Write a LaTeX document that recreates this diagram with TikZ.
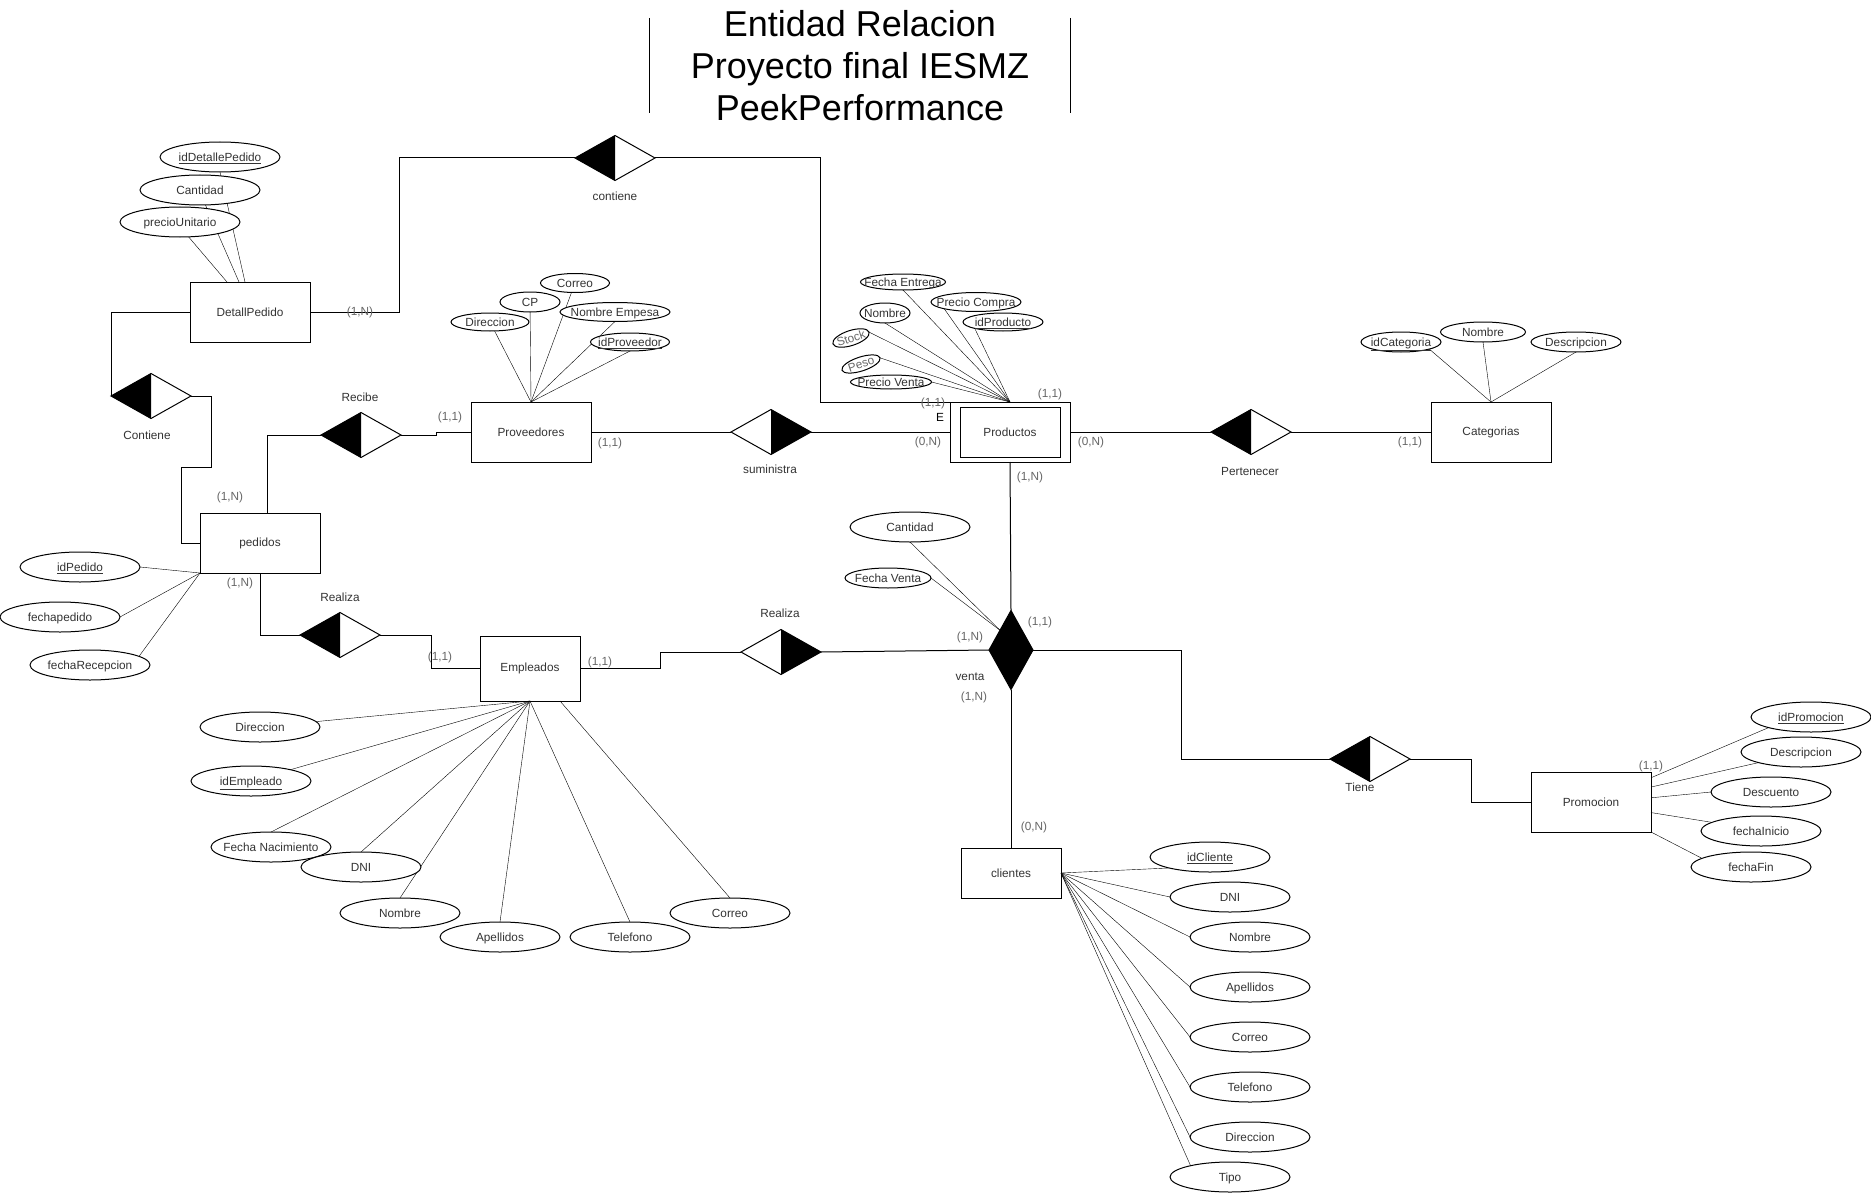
\documentclass[tikz,border=0pt]{standalone}
\usepackage{fontspec}
\setmainfont{Liberation Sans}
\usepackage{tikz}
\usetikzlibrary{positioning,shapes.geometric,calc,backgrounds}
\definecolor{cardgray}{HTML}{666666}
\definecolor{txtgray}{HTML}{333333}

\begin{document}
\begin{tikzpicture}[x=1pt,y=-1pt,line width=1pt,
  every node/.style={font=\fontsize{11.8}{14}\selectfont,text=txtgray},
  fixtext/.style={text height=8.5pt,text depth=0pt,
    execute at begin node={\hbox to 0pt\bgroup\hss},
    execute at end node={\hss\egroup}},
  entity/.style={draw,minimum width=120,minimum height=60,inner sep=0,outer sep=0},
  attr/.style={draw,ellipse,fill=white,minimum width=120,minimum height=30,inner sep=0,outer sep=0,fixtext},
  sattr/.style={draw,ellipse,fill=white,inner sep=0,outer sep=0,fixtext},
  rel/.style={draw,diamond,minimum width=80,minimum height=45,inner sep=0,outer sep=0},
  card/.style={text=cardgray}
]
  \useasboundingbox (0,0) rectangle (1871,1193);

  % title
  \node[font=\fontsize{36}{42}\selectfont,text=black,align=center,minimum width=420] (title) at (860,65.5)
    {Entidad Relacion\\Proyecto final IESMZ\\PeekPerformance};
  \draw ($(title.west)+(0,-47.5)$) -- ($(title.west)+(0,47.5)$);
  \draw ($(title.east)+(0,-47.5)$) -- ($(title.east)+(0,47.5)$);

  % entities
  \node[entity] (dp) at (250,312) {DetallPedido};
  \node[entity] (prov) at (531,432) {Proveedores};
  \node[entity] (prod) at (1010,432) {Productos};
  \draw ([shift={(10,5)}]prod.north west) rectangle ([shift={(-10,-5)}]prod.south east);
  \node[entity] (cat) at (1491,432) {Categorias};
  \node[entity] (ped) at (260,543) {pedidos};
  \node[entity,minimum width=100,minimum height=65] (emp) at (530,668.5) {Empleados};
  \node[entity,minimum width=100,minimum height=50] (cli) at (1011,873) {clientes};
  \node[entity] (promo) at (1591,802) {Promocion};

  % relationships
  \node[rel] (contiene) at (615,158) {};
  \node[rel] (contb) at (151,396) {};
  \node[rel] (recibe) at (361,435) {};
  \node[rel] (sumin) at (771,432) {};
  \node[rel] (pert) at (1251,432) {};
  \node[rel] (realped) at (340,635) {};
  \node[rel] (realvta) at (781,652) {};
  \node[rel,fill=black,minimum width=44,minimum height=79] (venta) at (1011,650) {};
  \node[rel] (tiene) at (1370,759) {};
  \foreach \rl in {contiene,contb,recibe,pert,realped,tiene}
    \fill (\rl.north) -- (\rl.west) -- (\rl.south) -- cycle;
  \foreach \rl in {sumin,realvta}
    \fill (\rl.north) -- (\rl.east) -- (\rl.south) -- cycle;

  \node (lcontiene) at (615,196) {contiene};
  \node (lcontb) at (147,435) {Contiene};
  \node (lrecibe) at (360,397) {Recibe};
  \node (lsumin) at (770,469) {suministra};
  \node (lpert) at (1250,471) {Pertenecer};
  \node (lrealped) at (340,597) {Realiza};
  \node (lrealvta) at (780,613) {Realiza};
  \node (lventa) at (970,677) {venta};
  \node (ltiene) at (1360,787) {Tiene};

  % connectors
  \draw (dp.east) -- ++(89,0) |- (contiene.west);
  \draw (contiene.east) -- ++(165,0) |- (prod.north west);
  \draw (dp.west) -| (contb.west);
  \draw (contb.east) -- ++(20,0) -- ++(0,71) -- ++(-30,0) |- (ped.west);
  \draw (recibe.west) -| ([xshift=7]ped.north);
  \draw (recibe.east) -- ++(35,0) |- (prov.west);
  \draw (prov.east) -- (sumin.west);
  \draw (sumin.east) -- (prod.west);
  \draw (prod.east) -- (pert.west);
  \draw (pert.east) -- (cat.west);
  \draw (prod.south) -- (venta.north);
  \draw (venta.west) -- (realvta.east);
  \draw (realvta.west) -- ++(-81,0) |- (emp.east);
  \draw (ped.south) |- (realped.west);
  \draw (realped.east) -- ++(51,0) |- (emp.west);
  \draw (venta.east) -- ++(148,0) |- (tiene.west);
  \draw (tiene.east) -- ++(61,0) |- (promo.west);
  \draw (venta.south) -- (cli.north);

  % cardinalities
  \node[card] (kdp) at (360,312) {(1,N)};
  \node[card] (kprovl) at (450,417) {(1,1)};
  \node[card] (kpedt) at (230,497) {(1,N)};
  \node[card] (kpedb) at (240,583) {(1,N)};
  \node[card] (kempl) at (440,657) {(1,1)};
  \node[card] (kempr) at (600,662) {(1,1)};
  \node[card] (kprovr) at (610,443) {(1,1)};
  \node[card] (kprodl) at (928,442) {(0,N)};
  \node[card] (kprodt) at (933,403) {(1,1)};
  \node[text=black] (kweak) at (940,417) {E};
  \node[card] (kprodtr) at (1050,394) {(1,1)};
  \node[card] (kprodr) at (1091,442) {(0,N)};
  \node[card] (kcat) at (1410,442) {(1,1)};
  \node[card] (kprodb) at (1030,477) {(1,N)};
  \node[card] (kvtal) at (970,637) {(1,N)};
  \node[card] (kvtat) at (1040,622) {(1,1)};
  \node[card] (kvtab) at (974,697) {(1,N)};
  \node[card] (kcli) at (1034,827) {(0,N)};
  \node[card] (kpromo) at (1651,766) {(1,1)};

  % attributes
  \node[attr] (dpid) at (220,157) {\underline{idDetallePedido}};
  \node[attr] (dpcant) at (200,190) {Cantidad};
  \node[attr] (dpprecio) at (180,222) {precioUnitario};

  \node[attr] (pedid) at (80,567) {\underline{idPedido}};
  \node[attr] (pedfecha) at (60,617) {fechapedido};
  \node[attr] (pedrecep) at (90,665) {fechaRecepcion};

  \node[sattr,minimum width=78,minimum height=18] (provdir) at (490,322) {Direccion};
  \node[sattr,minimum width=60,minimum height=20] (provcp) at (530,302) {CP};
  \node[sattr,minimum width=69,minimum height=19] (provcorreo) at (575,283) {Correo};
  \node[sattr,minimum width=110,minimum height=19] (provnom) at (615,312) {Nombre Empesa};
  \node[sattr,minimum width=79,minimum height=18] (provid) at (630,342) {\underline{idProveedor}};

  \node[sattr,minimum width=85,minimum height=16] (prodfent) at (903,282) {Fecha Entrega};
  \node[sattr,minimum width=90,minimum height=19] (prodpcomp) at (976,302) {Precio Compra};
  \node[sattr,minimum width=80,minimum height=18] (prodid) at (1003,322) {\underline{idProducto}};
  \node[sattr,minimum width=50,minimum height=20] (prodnom) at (885,313) {Nombre};
  \node[sattr,minimum width=38,minimum height=15,rotate=18,text=cardgray] (prodstock) at (851,338) {Stock};
  \node[sattr,minimum width=40,minimum height=14,rotate=18,text=cardgray] (prodpeso) at (861,364) {Peso};
  \node[sattr,minimum width=81,minimum height=14] (prodpventa) at (891,382) {Precio Venta};

  \node[sattr,minimum width=80,minimum height=20] (catid) at (1401,342) {\underline{idCategoria}};
  \node[sattr,minimum width=85,minimum height=20] (catnom) at (1483,332) {Nombre};
  \node[sattr,minimum width=90,minimum height=20] (catdesc) at (1576,342) {Descripcion};

  \node[attr] (vtacant) at (910,527) {Cantidad};
  \node[sattr,minimum width=86,minimum height=20] (vtafecha) at (888,578) {Fecha Venta};

  \node[attr] (empdir) at (260,727) {Direccion};
  \node[attr] (empid) at (251,781) {\underline{idEmpleado}};
  \node[attr] (empfecha) at (271,847) {Fecha Nacimiento};
  \node[attr] (empdni) at (361,867) {DNI};
  \node[attr] (empnom) at (400,913) {Nombre};
  \node[attr] (empape) at (500,937) {Apellidos};
  \node[attr] (emptel) at (630,937) {Telefono};
  \node[attr] (empcorreo) at (730,913) {Correo};

  \node[attr] (promoid) at (1811,717) {\underline{idPromocion}};
  \node[attr] (promodesc) at (1801,752) {Descripcion};
  \node[attr] (promodto) at (1771,792) {Descuento};
  \node[attr] (promoini) at (1761,831) {fechaInicio};
  \node[attr] (promofin) at (1751,867) {fechaFin};

  \node[attr] (cliid) at (1210,857) {\underline{idCliente}};
  \node[attr] (clidni) at (1230,897) {DNI};
  \node[attr] (clinom) at (1250,937) {Nombre};
  \node[attr] (cliape) at (1250,987) {Apellidos};
  \node[attr] (clicorreo) at (1250,1037) {Correo};
  \node[attr] (clitel) at (1250,1087) {Telefono};
  \node[attr] (clidir) at (1250,1137) {Direccion};
  \node[attr] (clitipo) at (1230,1177) {Tipo};

  % attribute links
  \begin{scope}[on background layer]
    \draw (dpid.south) -- ([xshift=-5]dp.north);
    \draw (dpcant.-70) -- ([xshift=-11]dp.north);
    \draw (dpprecio.-60) -- ([xshift=-23]dp.north);
    \draw (pedid.east) -- (ped.south west);
    \draw (pedfecha.east) -- (ped.south west);
    \draw (pedrecep.10) -- (ped.south west);
    \foreach \a in {provdir,provcp,provcorreo}
      \draw (\a) -- (prov.north);
    \draw (provnom.south) -- (prov.north);
    \draw (provid.south) -- (prov.north);
    \draw (prodfent.south) -- (prod.north);
    \draw (prodpcomp.south west) -- (prod.north);
    \draw (prodid.south west) -- (prod.north);
    \draw (prodnom.south) -- (prod.north);
    \draw (prodstock.east) -- (prod.north);
    \draw (prodpeso.east) -- (prod.north);
    \draw (prodpventa.east) -- (prod.north);
    \draw (catid.south east) -- (cat.north);
    \draw (catnom.south) -- (cat.north);
    \draw (catdesc.south) -- (cat.north);
    \draw (vtacant.south) -- (venta.north west);
    \draw (vtafecha.east) -- (venta.north west);
    \draw (empdir) -- (emp.south);
    \draw (empid) -- (emp.south);
    \foreach \a in {empfecha,empdni,empnom,empape,emptel}
      \draw (\a.north) -- (emp.south);
    \draw (empcorreo.north) -- ([xshift=30]emp.south);
    \draw (promoid.south west) -- (promo.22);
    \draw (promodesc.south west) -- (promo.14);
    \draw (promodto.west) -- (promo.4);
    \draw (promoini.170) -- (promo.-10);
    \draw (promofin.170) -- (promo.south east);
    \draw (cliid.195) -- (cli.east);
    \foreach \a in {clidni,clinom,cliape,clicorreo,clitel,clidir}
      \draw (\a.west) -- (cli.east);
    \draw (clitipo.164) -- (cli.east);
  \end{scope}
\end{tikzpicture}
\end{document}
